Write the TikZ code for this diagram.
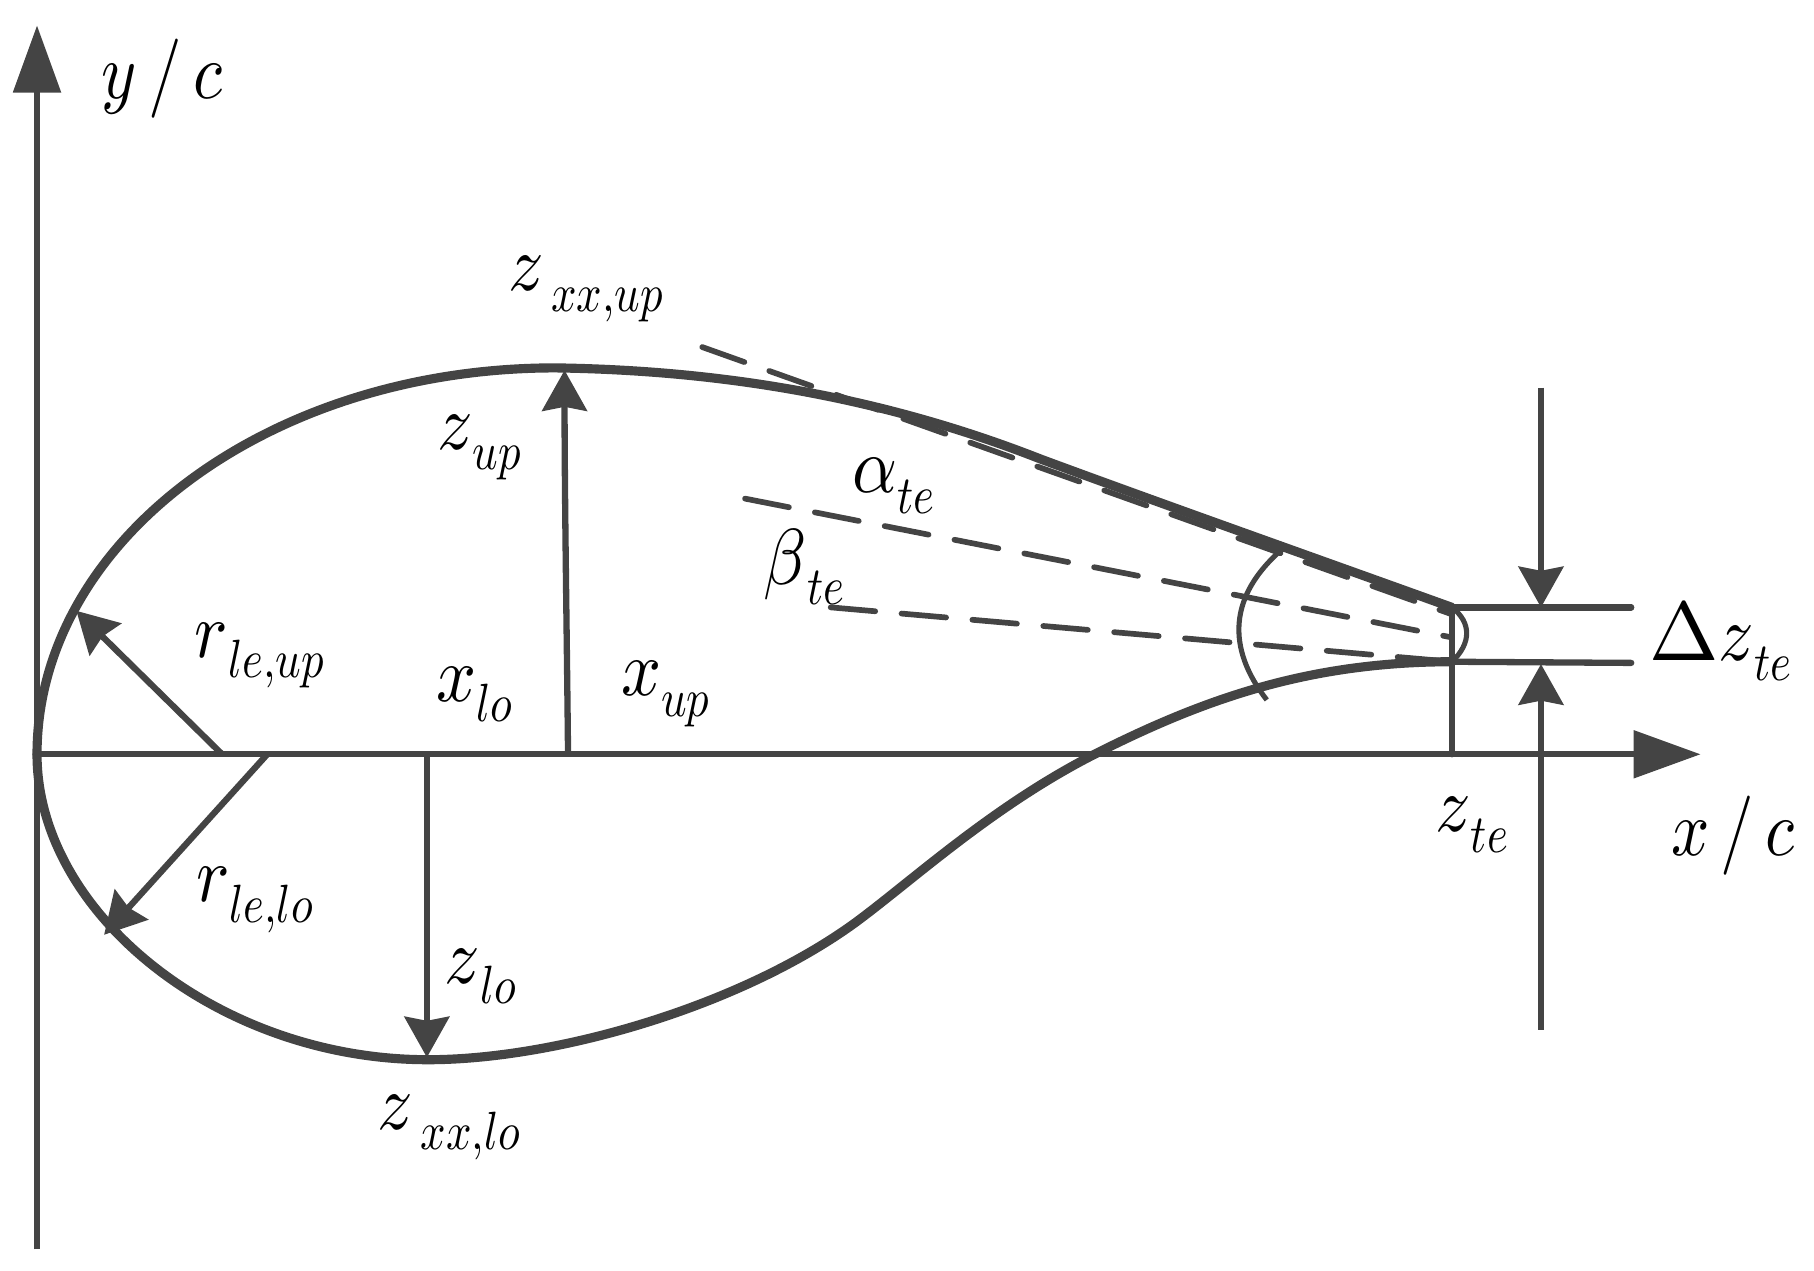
\documentclass[tikz,border=0pt]{standalone}
\usepackage{graphicx}
\usetikzlibrary{arrows.meta}
\definecolor{ink}{HTML}{444444}
\newcommand{\lbl}[2]{\scalebox{3.45}[3.9]{$#1$}\raisebox{-10pt}{\scalebox{2.2}[2.65]{$#2$}}}
\tikzset{
  axisline/.style={draw=ink,line width=3.1pt,-{Stealth[length=33pt,width=23pt,inset=0pt]}},
  dimline/.style={draw=ink,line width=3.1pt,-{Stealth[length=20pt,width=22pt,inset=2pt]}},
  plainline/.style={draw=ink,line width=3.1pt,line cap=round},
  foil/.style={draw=ink,line width=4.5pt,line cap=round,line join=round},
  dashline/.style={draw=ink,line width=2.8pt,line cap=round,dash pattern=on 22pt off 13pt},
  arcline/.style={draw=ink,line width=2.5pt},
  lab/.style={text=black,inner sep=0pt,anchor=center}
}
\begin{document}
\begin{tikzpicture}[x=0.02cm,y=-0.02cm]
\useasboundingbox (0,0) rectangle (1568,1098.6);
% named points
\coordinate (O) at (32,652);
\coordinate (ytop) at (32,22);
\coordinate (ybot) at (32,1080);
\coordinate (xtip) at (1470,652);
\coordinate (teup) at (1255,525);
\coordinate (telo) at (1255,572);
\coordinate (tebase) at (1255,652);
\coordinate (upfoot) at (491,652);
\coordinate (uptop) at (488,320);
\coordinate (lofoot) at (369,652);
\coordinate (lotop) at (369,914);
\coordinate (ruf) at (192,652);
\coordinate (rut) at (66,528);
\coordinate (rlf) at (231,652);
\coordinate (rlt) at (90,808);
\coordinate (dtu) at (1332,525);
\coordinate (dsu) at (1332,335);
\coordinate (dtl) at (1332,574);
\coordinate (dsl) at (1332,890);
\coordinate (eu) at (1410,525);
\coordinate (el) at (1410,573);
\coordinate (dashend) at (1255,531);
% axes
\draw[axisline] (ybot) -- (ytop);
\draw[axisline] (O) -- (xtip);
% airfoil
\draw[foil] (O) .. controls (32,467.5) and (232,318) .. (480,318)
  .. controls (620,320) and (760,342) .. (900,397)
  .. controls (1000,434) and (1130,480) .. (teup);
\draw[foil] (O) .. controls (32,790) and (190,916) .. (370,916)
  .. controls (480,916) and (640,870) .. (740,797)
  .. controls (790,760) and (860,695) .. (950,650)
  .. controls (1040,605) and (1130,572) .. (telo);
% trailing edge
\draw[dashline] (607,300) -- (dashend);
\draw[dashline] (644,431) -- (1255,551);
\draw[dashline] (718,525) -- (telo);
\draw[plainline] (teup) -- (tebase);
\draw[plainline] (teup) -- (eu);
\draw[plainline] (telo) -- (el);
\draw[arcline] (1108,475) .. controls (1062,515) and (1060,560) .. (1095,605);
\draw[arcline] (teup) .. controls (1272,538) and (1272,556) .. (telo);
% dimension arrows
\draw[dimline] (upfoot) .. controls (490,550) and (488,430) .. (uptop);
\draw[dimline] (lofoot) -- (lotop);
\draw[dimline] (ruf) -- (rut);
\draw[dimline] (rlf) -- (rlt);
\draw[dimline] (dsu) -- (dtu);
\draw[dimline] (dsl) -- (dtl);
% labels
\node[lab] (lyc) at (140,68) {\scalebox{3.3}[3.9]{$y\,/\,c$}};
\node[lab] (lxc) at (1498,722) {\scalebox{3.3}[3.9]{$x\,/\,c$}};
\node[lab] (lzxu) at (506,250) {\lbl{z}{\,xx{,}up}};
\node[lab] (lzu) at (414,387) {\lbl{z}{up}};
\node[lab] (lat) at (772,420) {\lbl{\alpha}{te}};
\node[lab] (lbt) at (695,490) {\lbl{\beta}{te}};
\node[lab] (lru) at (224,567) {\lbl{r}{le{,}up}};
\node[lab] (lxl) at (410,600) {\lbl{x}{lo}};
\node[lab] (lxu) at (575,600) {\lbl{x}{up}};
\node[lab] (lrl) at (220,778) {\lbl{r}{le{,}lo}};
\node[lab] (lzl) at (415,844) {\lbl{z}{lo}};
\node[lab] (lzxl) at (388,975) {\lbl{z}{\,xx{,}lo}};
\node[lab] (lzt) at (1272,713) {\lbl{z}{te}};
\node[lab] (ldz) at (1487,555) {\scalebox{4.1}{$\Delta$}\lbl{z}{te}};
\end{tikzpicture}
\end{document}
